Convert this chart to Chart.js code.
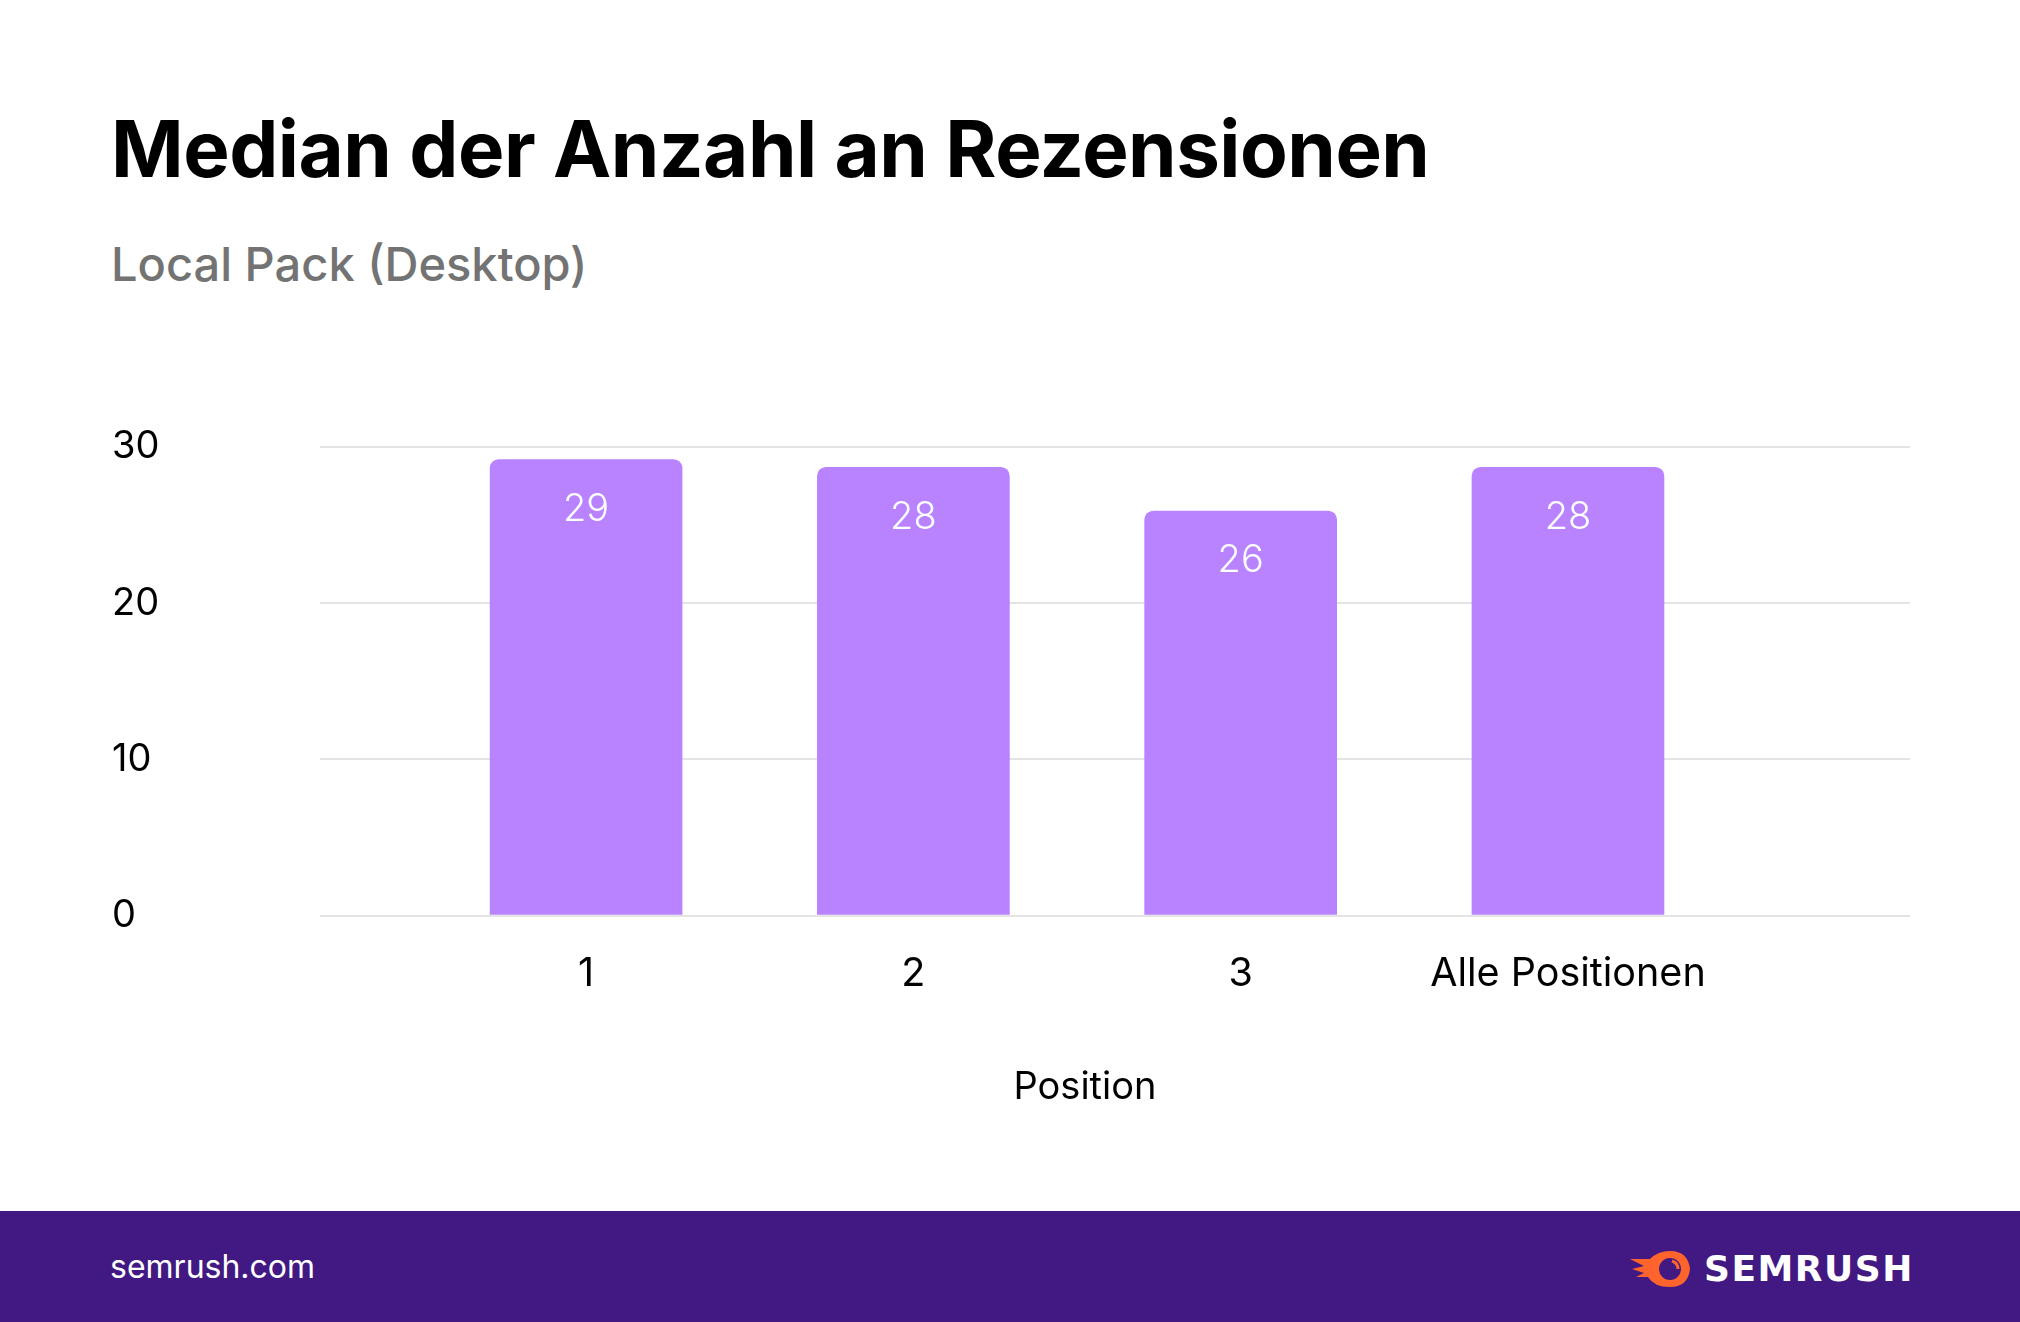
<!DOCTYPE html>
<html lang="de">
<head>
    <meta charset="UTF-8">
    <title>Median der Anzahl an Rezensionen</title>
    <script src="https://cdn.jsdelivr.net/npm/chart.js"></script>
    <style>
        body { margin: 0; width: 2020px; height: 1322px; background: #fff; position: relative; overflow: hidden; font-family: Inter, "Noto Sans", sans-serif; }
        #title { position: absolute; left: 111px; top: 101px; font-size: 78px; font-weight: 700; color: #000; letter-spacing: -0.5px; }
        #subtitle { position: absolute; left: 111px; top: 235px; font-size: 47px; font-weight: 500; color: #737373; }
        #chartBox { position: absolute; left: 100px; top: 400px; width: 1860px; height: 760px; }
        #axisTitle { position: absolute; left: 0; width: 2170px; top: 1062px; text-align: center; font-size: 38px; color: #000; }
        #footer { position: absolute; left: 0; top: 1211px; width: 2020px; height: 111px; background: #421983; }
        #site { position: absolute; left: 110px; top: 36px; font-size: 32px; color: #fff; }
        #logo { position: absolute; left: 1628px; top: 37px; display: flex; align-items: center; }
        #logo span { color: #fff; font-family: "DejaVu Sans", sans-serif; font-weight: 700; font-size: 36px; letter-spacing: 1.5px; margin-left: 12px; }
    </style>
</head>
<body>
    <div id="title">Median der Anzahl an Rezensionen</div>
    <div id="subtitle">Local Pack (Desktop)</div>
    <div id="chartBox"><canvas id="chart"></canvas></div>
    <div id="axisTitle">Position</div>
    <div id="footer">
        <div id="site">semrush.com</div>
        <div id="logo">
            <svg width="64" height="40" viewBox="0 0 64 40">
                <path d="M2 10 L22 10 Q30 2 42 2 Q60 2 62 20 Q60 38 42 38 Q26 38 20 28 L8 28 L16 24 L4 20 L16 17 Z" fill="#ff642d"/>
                <circle cx="42" cy="20" r="11" fill="#421983"/>
                <path d="M44 12 Q50 14 50 20" stroke="#ff642d" stroke-width="3" fill="none"/>
            </svg>
            <span>SEMRUSH</span>
        </div>
    </div>

    <script>
        // data
        var categories = ['1', '2', '3', 'Alle Positionen'];
        var medianValues = [29.2, 28.7, 25.9, 28.7];
        var valueLabels = ['29', '28', '26', '28'];
        var yTicks = [0, 10, 20, 30];

        var barLabels = {
            id: 'barLabels',
            afterDatasetsDraw: function(chart) {
                var ctx = chart.ctx;
                var meta = chart.getDatasetMeta(0);
                ctx.save();
                ctx.fillStyle = '#ffffff';
                ctx.font = '300 38px Inter';
                ctx.textAlign = 'center';
                ctx.textBaseline = 'middle';
                meta.data.forEach(function(bar, i) {
                    ctx.fillText(valueLabels[i], bar.x, bar.y + 50);
                });
                ctx.restore();
            }
        };

        var ctx = document.getElementById('chart');
        var chart = new Chart(ctx, {
            type: 'bar',
            data: {
                datasets: [{
                    data: medianValues.map(function(v, i) { return { x: i, y: v }; }),
                    backgroundColor: '#b982ff',
                    borderRadius: { topLeft: 9, topRight: 9 },
                    borderSkipped: 'start',
                    barThickness: 192
                }]
            },
            options: {
                responsive: true,
                maintainAspectRatio: false,
                animation: false,
                layout: { padding: { left: 12, right: 50, top: 47, bottom: 0 } },
                plugins: { legend: { display: false }, tooltip: { enabled: false } },
                scales: {
                    x: {
                        type: 'linear',
                        offset: false,
                        min: -0.813,
                        max: 4.045,
                        grid: { display: false },
                        border: { display: false },
                        afterBuildTicks: function(scale) {
                            scale.ticks = categories.map(function(c, i) { return { value: i }; });
                        },
                        afterFit: function(scale) { scale.height = 244.5; },
                        ticks: {
                            padding: 27,
                            color: '#000',
                            font: { family: 'Inter', size: 39.5 },
                            maxRotation: 0,
                            callback: function(v) { return categories[v]; }
                        }
                    },
                    y: {
                        min: 0,
                        max: 30,
                        afterBuildTicks: function(scale) {
                            scale.ticks = yTicks.map(function(v) { return { value: v }; });
                        },
                        afterFit: function(scale) { scale.width = 208; },
                        grid: { color: '#e4e4e4', lineWidth: 2, drawTicks: false },
                        border: { display: false },
                        ticks: {
                            crossAlign: 'far',
                            color: '#000',
                            font: { family: 'Inter', size: 38 }
                        }
                    }
                }
            },
            plugins: [barLabels]
        });
    </script>
</body>
</html>
